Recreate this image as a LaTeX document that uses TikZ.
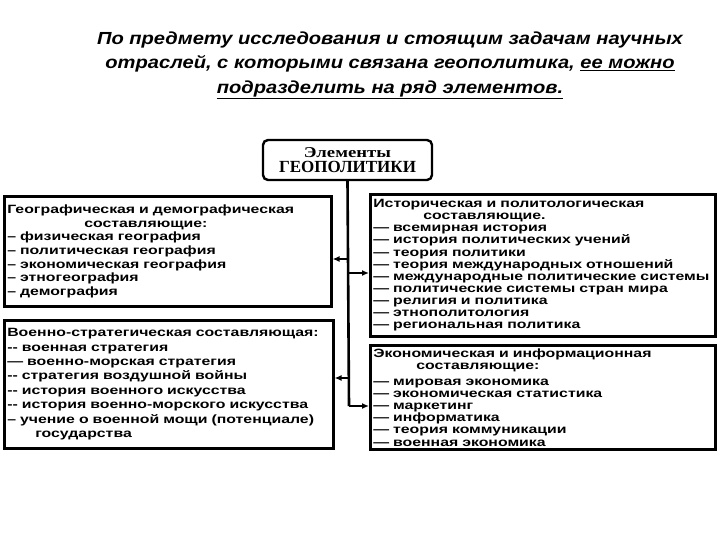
\documentclass[tikz,border=0pt]{standalone}
\usepackage{fontspec}
\usepackage{tikz}
\usetikzlibrary{arrows.meta}
\newfontfamily\boxfont[FakeStretch=1.32]{Liberation Sans}
\newfontfamily\headfont[FakeStretch=1.15]{Liberation Sans}
\newfontfamily\capfont{Liberation Serif}
\newfontfamily\capwide[FakeStretch=1.25]{Liberation Serif}

\begin{document}
\begin{tikzpicture}[x=1pt,y=-1pt,
  part/.style={draw,line width=2.6pt,anchor=north west,align=left,inner xsep=3pt,
    font=\boxfont\bfseries\fontsize{12}{13.7}\selectfont},
  ttl/.style={draw,line width=2.4pt,rounded corners=5pt,minimum width=169pt,minimum height=40pt,
    align=center,inner sep=1pt},
  trunk/.style={line width=2.6pt},
  ar/.style={-{Latex[length=7pt,width=6pt]},line width=2pt},
]
\useasboundingbox (0,0) rectangle (720,540);

% heading
\node[align=center,font=\headfont\bfseries\itshape\fontsize{17.5}{24.5}\selectfont] (head) at (390,65)
  {По предмету исследования и стоящим задачам научных\\
   отраслей, с которыми связана геополитика, \underline{ее можно}\\
   \underline{подразделить на ряд элементов.}};

\node[ttl,font=\capwide\bfseries\fontsize{15}{15}\selectfont] (top) at (347.5,160)
  {Элементы\\
   {\capfont\bfseries\fontsize{17}{15}\selectfont ГЕОПОЛИТИКИ}};

% four parts
\node[part,text width=321pt,minimum height=110pt] (geo) at (3,195)
  {Географическая и демографическая\\
   \hspace*{77pt}составляющие:\\
   – физическая география\\
   – политическая география\\
   – экономическая география\\
   – этногеография\\
   – демография};
\node[part,text width=339pt,minimum height=142pt,
  font=\boxfont\bfseries\fontsize{12}{12.1}\selectfont] (hist) at (369,193)
  {Историческая и политологическая\\
   \hspace*{50pt}составляющие.\\
   — всемирная история\\
   — история политических учений\\
   — теория политики\\
   — теория международных отношений\\
   — международные политические системы\\
   — политические системы стран мира\\
   — религия и политика\\
   — этнополитология\\
   — региональная политика};
\node[part,text width=323pt,minimum height=128pt,
  font=\boxfont\bfseries\fontsize{12}{14.4}\selectfont] (mil) at (3,319)
  {Военно-стратегическая составляющая:\\
   -{}- военная стратегия\\
   — военно-морская стратегия\\
   -{}- стратегия воздушной войны\\
   -{}- история военного искусства\\
   -{}- история военно-морского искусства\\
   – учение о военной мощи (потенциале)\\
   \hspace*{28pt}государства};
\node[part,text width=339pt,minimum height=104pt,
  font=\boxfont\bfseries\fontsize{12}{12.1}\selectfont] (eco) at (369,344)
  {Экономическая и информационная\\
   \hspace*{43pt}составляющие:\\[4pt]
   — мировая экономика\\
   — экономическая статистика\\
   — маркетинг\\
   — информатика\\
   — теория коммуникации\\
   — военная экономика};

% connectors
\coordinate (j1) at (349,259);
\coordinate (j2) at (349,273);
\coordinate (j3) at (349,378);
\coordinate (j4) at (349,406);
\draw[trunk] (top.south) -- (j4);
\draw[ar] (j1) -- (j1 -| geo.east);
\draw[ar] (j2) -- (j2 -| hist.west);
\draw[ar] (j3) -- (j3 -| mil.east);
\draw[ar] (j4) -- (j4 -| eco.west);
\end{tikzpicture}
\end{document}
